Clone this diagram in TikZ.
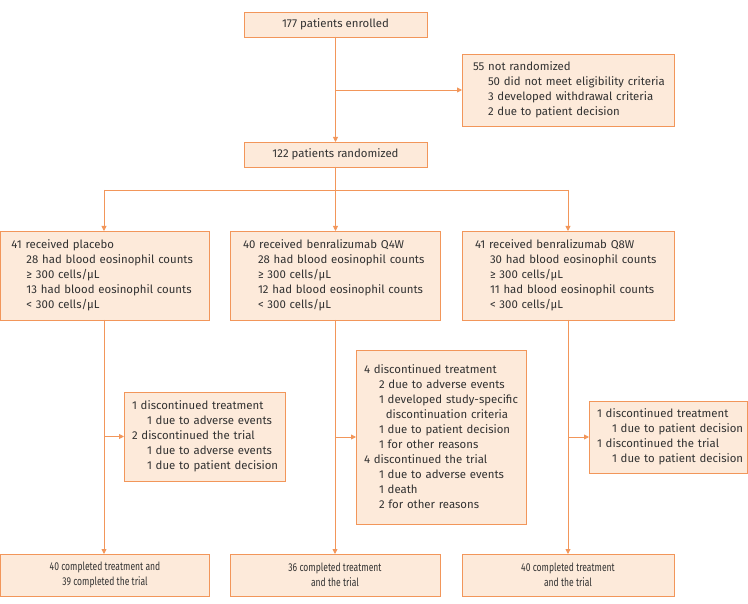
\documentclass[tikz,border=0pt]{standalone}
\usepackage{fontspec}
\setmainfont{Fira Sans}
\newfontfamily\narrowfont[FakeStretch=0.75]{Fira Sans}
\usetikzlibrary{arrows.meta}

\definecolor{boxline}{RGB}{242,150,90}
\definecolor{boxfill}{RGB}{253,234,218}
\definecolor{boxtext}{RGB}{50,50,50}
\newcommand{\ind}{\hspace*{15pt}}

\begin{document}
\begin{tikzpicture}[x=1pt,
					y=-1pt,
					>={Triangle[length=5pt,width=5pt]},
					flow box/.style={draw=boxline,fill=boxfill,line width=0.9pt,
					  text=boxtext,font=\fontsize{11.4}{15}\selectfont,
					  inner sep=0pt,outer sep=0pt},
					list box/.style={flow box,align=left,
					  execute at begin node={\leftskip=#1\hyphenpenalty=10000}},
					list box/.default=8pt,
					end box/.style={flow box,align=center,
					  font=\narrowfont\fontsize{11.4}{15}\selectfont},
					flow line/.style={draw=boxline,line width=0.9pt}]

  \useasboundingbox (0,0) rectangle (748,604);

  % enrolment and randomization
  \node[flow box,minimum width=183pt,minimum height=25pt] (enrolled) at (335.5,24.5) {177 patients enrolled};
  \node[list box=11pt,text width=212pt,minimum height=72pt] (notrand) at (568,90)
    {55 not randomized\\
     \ind 50 did not meet eligibility criteria\\
     \ind 3 developed withdrawal criteria\\
     \ind 2 due to patient decision};
  \node[flow box,minimum width=183pt,minimum height=25pt] (random) at (335.5,154.5) {122 patients randomized};

  % treatment arms
  \node[list box=11pt,text width=209pt,minimum height=89pt] (placebo) at (105,275.5)
    {41 received placebo\\
     \ind 28 had blood eosinophil counts\\
     \ind ≥ 300 cells/µL\\
     \ind 13 had blood eosinophil counts\\
     \ind < 300 cells/µL};
  \node[list box=13pt,text width=210pt,minimum height=89pt] (qfour) at (335,275.5)
    {40 received benralizumab Q4W\\
     \ind 28 had blood eosinophil counts\\
     \ind ≥ 300 cells/µL\\
     \ind 12 had blood eosinophil counts\\
     \ind < 300 cells/µL};
  \node[list box=13pt,text width=212pt,minimum height=89pt] (qeight) at (568,275.5)
    {41 received benralizumab Q8W\\
     \ind 30 had blood eosinophil counts\\
     \ind ≥ 300 cells/µL\\
     \ind 11 had blood eosinophil counts\\
     \ind < 300 cells/µL};

  % discontinuations
  \node[list box,text width=161pt,minimum height=89pt] (placeboout) at (204.5,436.5)
    {1 discontinued treatment\\
     \ind 1 due to adverse events\\
     2 discontinued the trial\\
     \ind 1 due to adverse events\\
     \ind 1 due to patient decision};
  \node[list box,text width=170pt,minimum height=174pt] (qfourout) at (441,437)
    {4 discontinued treatment\\
     \ind 2 due to adverse events\\
     \ind 1 developed study-specific\\
     \ind\hspace*{3pt} discontinuation criteria\\
     \ind 1 due to patient decision\\
     \ind 1 for other reasons\\
     4 discontinued the trial\\
     \ind 1 due to adverse events\\
     \ind 1 death\\
     \ind 2 for other reasons};
  \node[list box,text width=158pt,minimum height=72pt] (qeightout) at (668,437)
    {1 discontinued treatment\\
     \ind 1 due to patient decision\\
     1 discontinued the trial\\
     \ind 1 due to patient decision};

  % completers
  \node[end box,minimum width=209pt,minimum height=42pt] (placebodone) at (105,575)
    {40 completed treatment and\\39 completed the trial};
  \node[end box,minimum width=210pt,minimum height=42pt] (qfourdone) at (335,575)
    {36 completed treatment\\and the trial};
  \node[end box,minimum width=212pt,minimum height=42pt] (qeightdone) at (568,575)
    {40 completed treatment\\and the trial};

  \coordinate (split) at (335.5,90);
  \coordinate (spine) at (335.5,190);
  \coordinate (spineleft) at (104,190);
  \coordinate (spineright) at (568,190);

  \draw[flow line,->] (enrolled) -- (random);
  \draw[flow line,->] (split) -- (notrand.west);
  \draw[flow line] (random.south) -- (spine) (spineleft) -- (spineright);
  \draw[flow line,->] (spineleft) -- (spineleft |- placebo.north);
  \draw[flow line,->] (spine) -- (spine |- qfour.north);
  \draw[flow line,->] (spineright) -- (spineright |- qeight.north);

  \draw[flow line,->] (placebo.south -| spineleft) -- (placebodone.north -| spineleft);
  \draw[flow line,->] (qfour.south) -- (qfourdone.north);
  \draw[flow line,->] (qeight.south) -- (qeightdone.north);
  \draw[flow line,->] (placeboout.west -| spineleft) -- (placeboout.west);
  \draw[flow line,->] (qfourout.west -| qfour.south) -- (qfourout.west);
  \draw[flow line,->] (qeightout.west -| qeight.south) -- (qeightout.west);
\end{tikzpicture}
\end{document}
